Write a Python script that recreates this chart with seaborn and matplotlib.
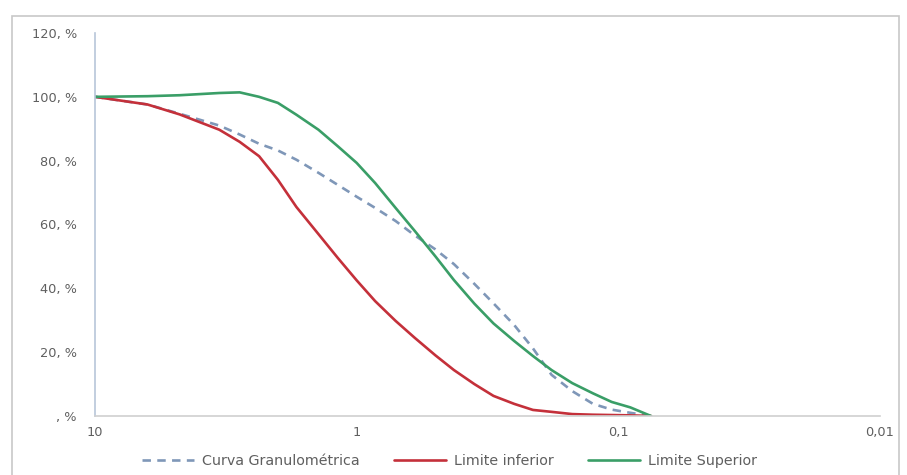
import numpy as np
import pandas as pd
import matplotlib
matplotlib.use("Agg")
import matplotlib.pyplot as plt
from matplotlib.patches import Rectangle
from matplotlib.ticker import FixedLocator, NullLocator
import seaborn as sns

# --- données (mm, % passant) ---
tamis = [10, 6.3, 4.75, 3.35, 2.8, 2.36, 2.0, 1.7, 1.4, 1.18, 1.0, 0.85, 0.71, 0.6,
         0.5, 0.425, 0.355, 0.3, 0.25, 0.212, 0.18, 0.15, 0.125, 0.106, 0.09, 0.075]
curva = [100, 97.6, 94.7, 91.0, 88.2, 85.3, 83.2, 80.3, 76.2, 72.4, 68.7, 65.2, 61.1, 56.6,
         52.2, 47.6, 41.4, 35.3, 28.5, 21.2, 12.9, 7.8, 3.8, 2.0, 1.0, 0]
lim_inf = [100, 97.6, 94.5, 89.7, 85.9, 81.4, 74.0, 65.5, 57.0, 49.5, 42.5, 36.0, 29.8, 24.5,
           19.0, 14.4, 10.0, 6.3, 3.8, 1.9, 1.3, 0.6, 0.4, 0.3, 0.2, 0]
lim_sup = [100, 100.2, 100.5, 101.2, 101.4, 100.0, 98.1, 94.4, 89.7, 84.5, 79.3, 73.0, 65.2, 58.0,
           50.0, 42.6, 35.2, 29.0, 23.5, 18.8, 14.4, 10.3, 7.1, 4.4, 2.7, 0]

y_ticks = [0, 20, 40, 60, 80, 100, 120]
y_labels = [", %", "20, %", "40, %", "60, %", "80, %", "100, %", "120, %"]
x_ticks = [10, 1, 0.1, 0.01]
x_labels = ["10", "1", "0,1", "0,01"]

series = ["Curva Granulométrica", "Limite inferior", "Limite Superior"]
colors = {"Curva Granulométrica": "#7f97b8", "Limite inferior": "#c4303a", "Limite Superior": "#3a9e67"}

df = pd.DataFrame({
    "tamis": tamis * 3,
    "passant": curva + lim_inf + lim_sup,
    "serie": [series[0]] * len(tamis) + [series[1]] * len(tamis) + [series[2]] * len(tamis),
})

sns.set_style("white")
plt.rcParams["font.family"] = ["DejaVu Sans"]
text_col = "#5f5f5f"

fig = plt.figure(figsize=(9.07, 4.75), dpi=100)
ax = fig.add_axes([95 / 907, 1 - 416 / 475, (880 - 95) / 907, (416 - 33) / 475])

sns.lineplot(data=df, x="tamis", y="passant", hue="serie", style="serie",
             palette=colors, hue_order=series, style_order=series,
             dashes={series[0]: (3.2, 2.4), series[1]: "", series[2]: ""},
             linewidth=1.9, sort=False, ax=ax, legend=True)

ax.set_xscale("log")
ax.set_xlim(10, 0.01)
ax.set_ylim(0, 120)
ax.xaxis.set_major_locator(FixedLocator(x_ticks))
ax.xaxis.set_minor_locator(NullLocator())
ax.set_xticklabels(x_labels)
ax.yaxis.set_major_locator(FixedLocator(y_ticks))
ax.set_yticklabels(y_labels)
ax.tick_params(axis="both", length=0, labelsize=9.3, labelcolor=text_col)
ax.tick_params(axis="y", pad=13)
ax.tick_params(axis="x", pad=7)
ax.set_xlabel("")
ax.set_ylabel("")

for s in ["top", "right"]:
    ax.spines[s].set_visible(False)
ax.spines["left"].set_color("#b8c6d9")
ax.spines["bottom"].set_color("#d0d0d0")
ax.spines["left"].set_linewidth(1.2)
ax.spines["bottom"].set_linewidth(1.2)

# --- légende en bas ---
handles, labels = ax.get_legend_handles_labels()
ax.legend(handles, labels, loc="center left", bbox_to_anchor=(142 / 907, 1 - 461 / 475),
          bbox_transform=fig.transFigure, ncol=3, frameon=False, fontsize=10.3,
          labelcolor=text_col, handlelength=3.6, columnspacing=2.4, handletextpad=0.6,
          borderpad=0, borderaxespad=0)

fig.patches.append(Rectangle((12 / 907, -0.02), (899 - 12) / 907, 1.02 - 16 / 475,
                             transform=fig.transFigure, fill=False, edgecolor="#c8c8c8", lw=1.2))

fig.savefig("out.png", dpi=100)
